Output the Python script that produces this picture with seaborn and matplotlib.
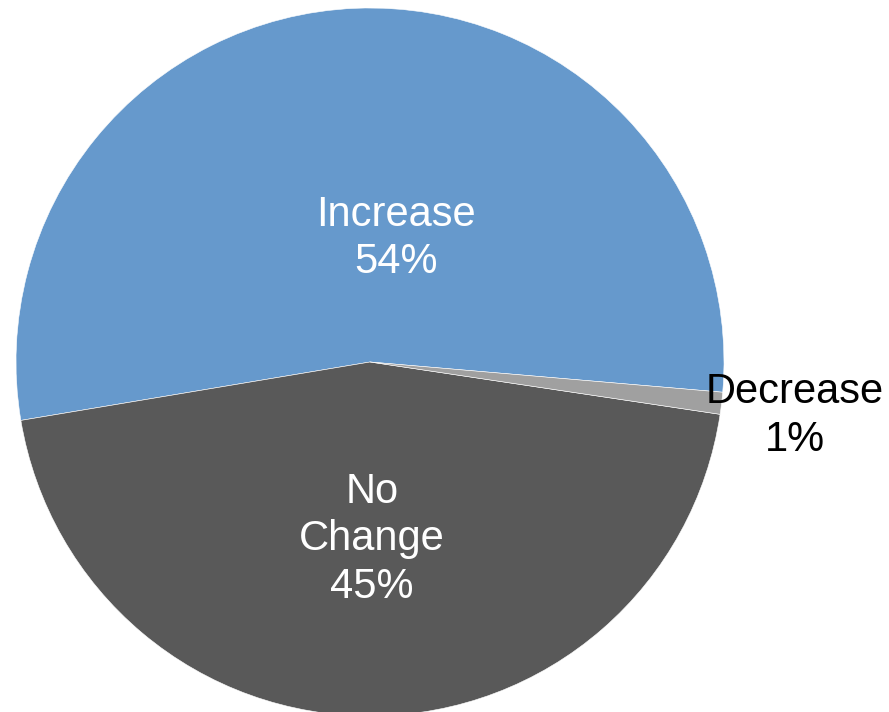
import matplotlib
matplotlib.use("Agg")
import matplotlib.pyplot as plt
import seaborn as sns

# Data
categories = ["Increase", "No Change", "Decrease"]
values = [54, 45, 1]
label_texts = ["Increase\n54%", "No\nChange\n45%", "Decrease\n1%"]

# Styles / positions
colors = ["#6699CC", "#595959", "#A0A0A0"]
text_colors = ["white", "white", "black"]
label_pos = [(0.073, 0.349), (0.006, -0.501), (1.20, -0.153)]

sns.set_theme(style="white")
plt.rcParams["font.family"] = ["Liberation Sans", "DejaVu Sans"]

W, H = 889, 712
fig = plt.figure(figsize=(W / 100, H / 100), dpi=100)
cx, cy, r = 370, 362, 354
ax = fig.add_axes([(cx - r) / W, (H - cy - r) / H, 2 * r / W, 2 * r / H])

wedges, _ = ax.pie(values, colors=colors, startangle=-4.9, counterclock=True,
                   radius=1.0, wedgeprops=dict(edgecolor="white", linewidth=0.4))
ax.set_xlim(-1, 1)
ax.set_ylim(-1, 1)
ax.set_aspect("equal")
ax.axis("off")

for txt, (x, y), c in zip(label_texts, label_pos, text_colors):
    ax.text(x, y, txt, ha="center", va="center", color=c, fontsize=30,
            linespacing=1.24, clip_on=False)

fig.savefig("out.png", dpi=100)
